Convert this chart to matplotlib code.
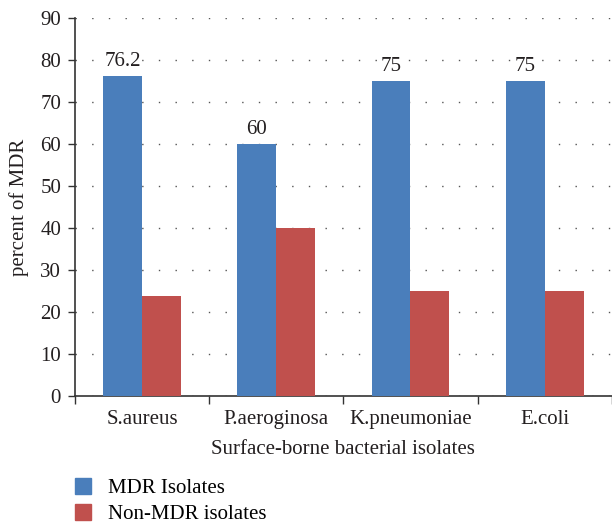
import numpy as np
import matplotlib.pyplot as plt
from matplotlib.patches import Patch

# Bacterial isolates and percent of MDR / non-MDR
isolates = ["S.aureus", "P.aeroginosa", "K.pneumoniae", "E.coli"]
mdr = [76.2, 60, 75, 75]
non_mdr = [23.8, 40, 25, 25]
mdr_labels = ["76.2", "60", "75", "75"]

blue = "#4a7ebb"
red = "#c0504d"
ink = "#231f20"

plt.rcParams["font.family"] = ["Liberation Serif", "DejaVu Serif"]
plt.rcParams["font.size"] = 15

fig = plt.figure(figsize=(6.12, 5.23), dpi=100)
ax = fig.add_axes([0.1225, 0.2428, 0.877, 0.7228])

x = np.arange(len(isolates))
w = 0.29
ax.bar(x - w / 2, mdr, w, color=blue, zorder=3)
ax.bar(x + w / 2, non_mdr, w, color=red, zorder=3)

# value labels on the MDR bars
for xi, v, t in zip(x, mdr, mdr_labels):
    ax.text(xi - w / 2, v + 1.2, t, ha="center", va="bottom", color=ink,
            zorder=4, bbox=dict(facecolor="white", edgecolor="none", pad=0.5))

ax.set_ylim(0, 90)
ax.set_xlim(-0.5, len(isolates) - 0.5)
ax.set_yticks(range(0, 91, 10))
ax.yaxis.grid(True, color="#555555", linestyle=(0, (1, 11)), linewidth=1.0, zorder=0)

ax.set_xticks(x)
ax.set_xticklabels(isolates)
ax.tick_params(axis="x", length=0, pad=10, colors=ink)
ax.set_xticks(np.arange(-0.5, len(isolates)), minor=True)
ax.tick_params(axis="x", which="minor", length=6, width=1.0, color="#333333")
ax.tick_params(axis="y", length=5, width=1.0, pad=5, labelcolor=ink, color="#333333")

for s in ["top", "right"]:
    ax.spines[s].set_visible(False)
for s in ["left", "bottom"]:
    ax.spines[s].set_color("#333333")
    ax.spines[s].set_linewidth(1.2)

ax.set_ylabel("percent of MDR", labelpad=8, color=ink)
ax.set_xlabel("Surface-borne bacterial isolates", labelpad=8, color=ink)

handles = [Patch(color=blue, label="MDR Isolates"),
           Patch(color=red, label="Non-MDR isolates")]
fig.legend(handles=handles, loc="upper left", bbox_to_anchor=(75 / 612, 1 - 478 / 523),
           frameon=False, borderpad=0, borderaxespad=0,
           handlelength=0.77, handleheight=0.77, handletextpad=0.8,
           labelspacing=0.3)

fig.savefig("out.png", dpi=100)
